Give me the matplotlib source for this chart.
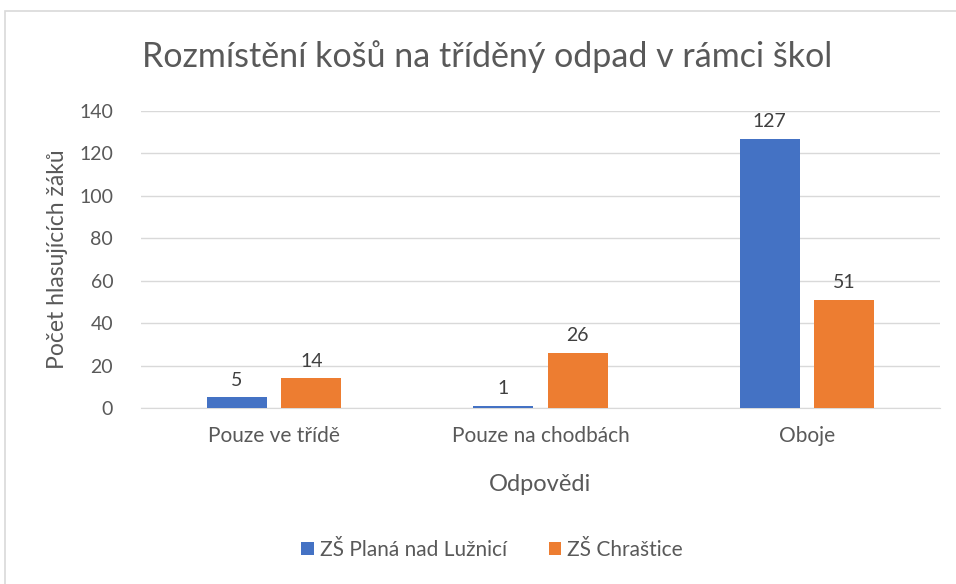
import matplotlib.pyplot as plt
from matplotlib.patches import Rectangle
import numpy as np

categories = ["Pouze ve třídě", "Pouze na chodbách", "Oboje"]
series_names = ["ZŠ Planá nad Lužnicí", "ZŠ Chraštice"]
plana = [5, 1, 127]
chrastice = [14, 26, 51]
colors = ["#4472C4", "#ED7D31"]

plt.rcParams['font.family'] = ['Lato', 'DejaVu Sans']

fig = plt.figure(figsize=(9.56, 5.84), dpi=100)
ax = fig.add_axes([141 / 956, 1 - 408 / 584, 799 / 956, 297 / 584])

# chart border (Excel frame)
fig.patches.append(Rectangle((5 / 956, -0.05), 1.0, 1 - 11 / 584 + 0.05,
                             transform=fig.transFigure, fill=False,
                             edgecolor="#D9D9D9", linewidth=1.2))

x = np.arange(len(categories))
w = 0.225
off = 0.14
for vals, name, col, d in [(plana, series_names[0], colors[0], -off),
                           (chrastice, series_names[1], colors[1], off)]:
    bars = ax.bar(x + d, vals, w, color=col, label=name, zorder=3)
    for b, v in zip(bars, vals):
        ax.text(b.get_x() + b.get_width() / 2, v + 4, str(v), ha="center",
                va="bottom", fontsize=14, color="#404040")

ax.set_xlim(-0.5, 2.5)
ax.set_ylim(0, 140)
ax.set_yticks(range(0, 141, 20))
ax.set_xticks(x)
ax.set_xticklabels(categories)
ax.grid(axis="y", color="#D9D9D9", linewidth=1, zorder=0)
for s in ["top", "right", "left"]:
    ax.spines[s].set_visible(False)
ax.spines["bottom"].set_color("#D9D9D9")
ax.tick_params(axis="both", length=0, labelsize=14, labelcolor="#595959")
ax.tick_params(axis="x", pad=13, labelsize=15)
ax.tick_params(axis="y", pad=20)

ax.set_xlabel("Odpovědi", fontsize=17, color="#595959", labelpad=20)
ax.set_ylabel("Počet hlasujících žáků", fontsize=16.5, color="#595959", labelpad=8)
fig.text(487 / 956, 1 - 57 / 584, "Rozmístění košů na tříděný odpad v rámci škol",
         ha="center", va="center", fontsize=24.5, color="#595959")

ax.legend(loc="center", bbox_to_anchor=(492 / 956, 1 - 550 / 584),
          bbox_transform=fig.transFigure, ncol=2, frameon=False, fontsize=15,
          labelcolor="#595959", handlelength=0.6, handleheight=0.6,
          handletextpad=0.3, columnspacing=2.0)

fig.savefig("out.png", dpi=100)
